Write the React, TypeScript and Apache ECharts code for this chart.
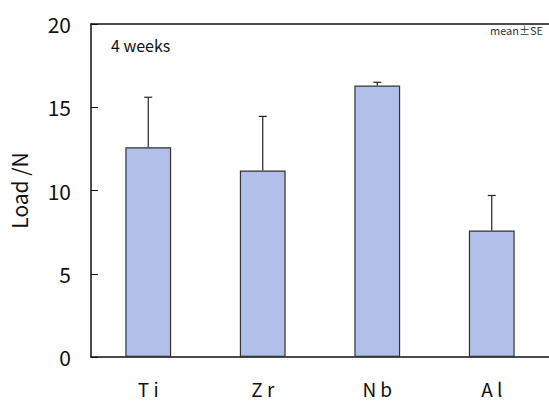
import React, { useEffect, useRef } from "react";
import * as echarts from "echarts";

const categories = ["T i", "Z r", "N b", "A l"];
const means = [12.6, 11.2, 16.3, 7.6];
const errors = [3.0, 3.25, 0.2, 2.1];
const yTicks = [0, 5, 10, 15, 20];

export default function App() {
  const ref = useRef<HTMLDivElement>(null);
  useEffect(() => {
    if (!ref.current) return;
    const chart = echarts.init(ref.current, undefined, { renderer: "svg" });
    const font = "'Noto Sans CJK JP', 'Noto Sans', sans-serif";
    chart.setOption({
      animation: false,
      backgroundColor: "#ffffff",
      grid: { left: 91, right: -2, top: 24, bottom: 46, containLabel: false },
      xAxis: [
        {
          type: "category",
          data: categories,
          axisLine: { show: true, lineStyle: { color: "#111", width: 1.5 } },
          axisTick: { show: false },
          axisLabel: { fontSize: 19, color: "#111", margin: 22, fontFamily: font },
        },
        {
          type: "category",
          position: "top",
          data: categories,
          axisLine: { show: true, onZero: false, lineStyle: { color: "#111", width: 1.5 } },
          axisTick: { show: false },
          axisLabel: { show: false },
        },
      ],
      yAxis: {
        type: "value",
        min: yTicks[0],
        max: yTicks[yTicks.length - 1],
        interval: 5,
        name: "Load /N",
        nameLocation: "middle",
        nameGap: 62,
        nameTextStyle: { fontSize: 21, color: "#111", fontFamily: font },
        axisLine: { show: true, lineStyle: { color: "#111", width: 1.5 } },
        axisTick: { show: true, inside: true, length: 7, lineStyle: { color: "#111" } },
        axisLabel: { fontSize: 21, color: "#111", margin: 20, fontFamily: font },
        splitLine: { show: false },
      },
      series: [
        {
          type: "bar",
          data: means,
          barWidth: "40%",
          itemStyle: { color: "#b2bfe8", borderColor: "#333", borderWidth: 1.2 },
        },
        {
          type: "custom",
          data: means.map((m, i) => [i, m, m + errors[i]]),
          renderItem: (params: any, api: any) => {
            const x = api.value(0);
            const lo = api.coord([x, api.value(1)]);
            const hi = api.coord([x, api.value(2)]);
            const cap = 4;
            return {
              type: "group",
              children: [
                { type: "line", shape: { x1: lo[0], y1: lo[1], x2: hi[0], y2: hi[1] }, style: { stroke: "#222", lineWidth: 1.2 } },
                { type: "line", shape: { x1: hi[0] - cap, y1: hi[1], x2: hi[0] + cap, y2: hi[1] }, style: { stroke: "#222", lineWidth: 1.2 } },
              ],
            };
          },
          z: 3,
        },
      ],
      graphic: [
        { type: "text", left: 111, top: 37, style: { text: "4 weeks", fontSize: 16, fill: "#111", fontFamily: font } },
        { type: "text", left: 490, top: 24, style: { text: "mean±SE", fontSize: 11, fill: "#333", fontFamily: font } },
      ],
    });
    return () => chart.dispose();
  }, []);
  return <div ref={ref} style={{ width: 549, height: 403, position: "absolute", left: 0, top: 0 }} />;
}
